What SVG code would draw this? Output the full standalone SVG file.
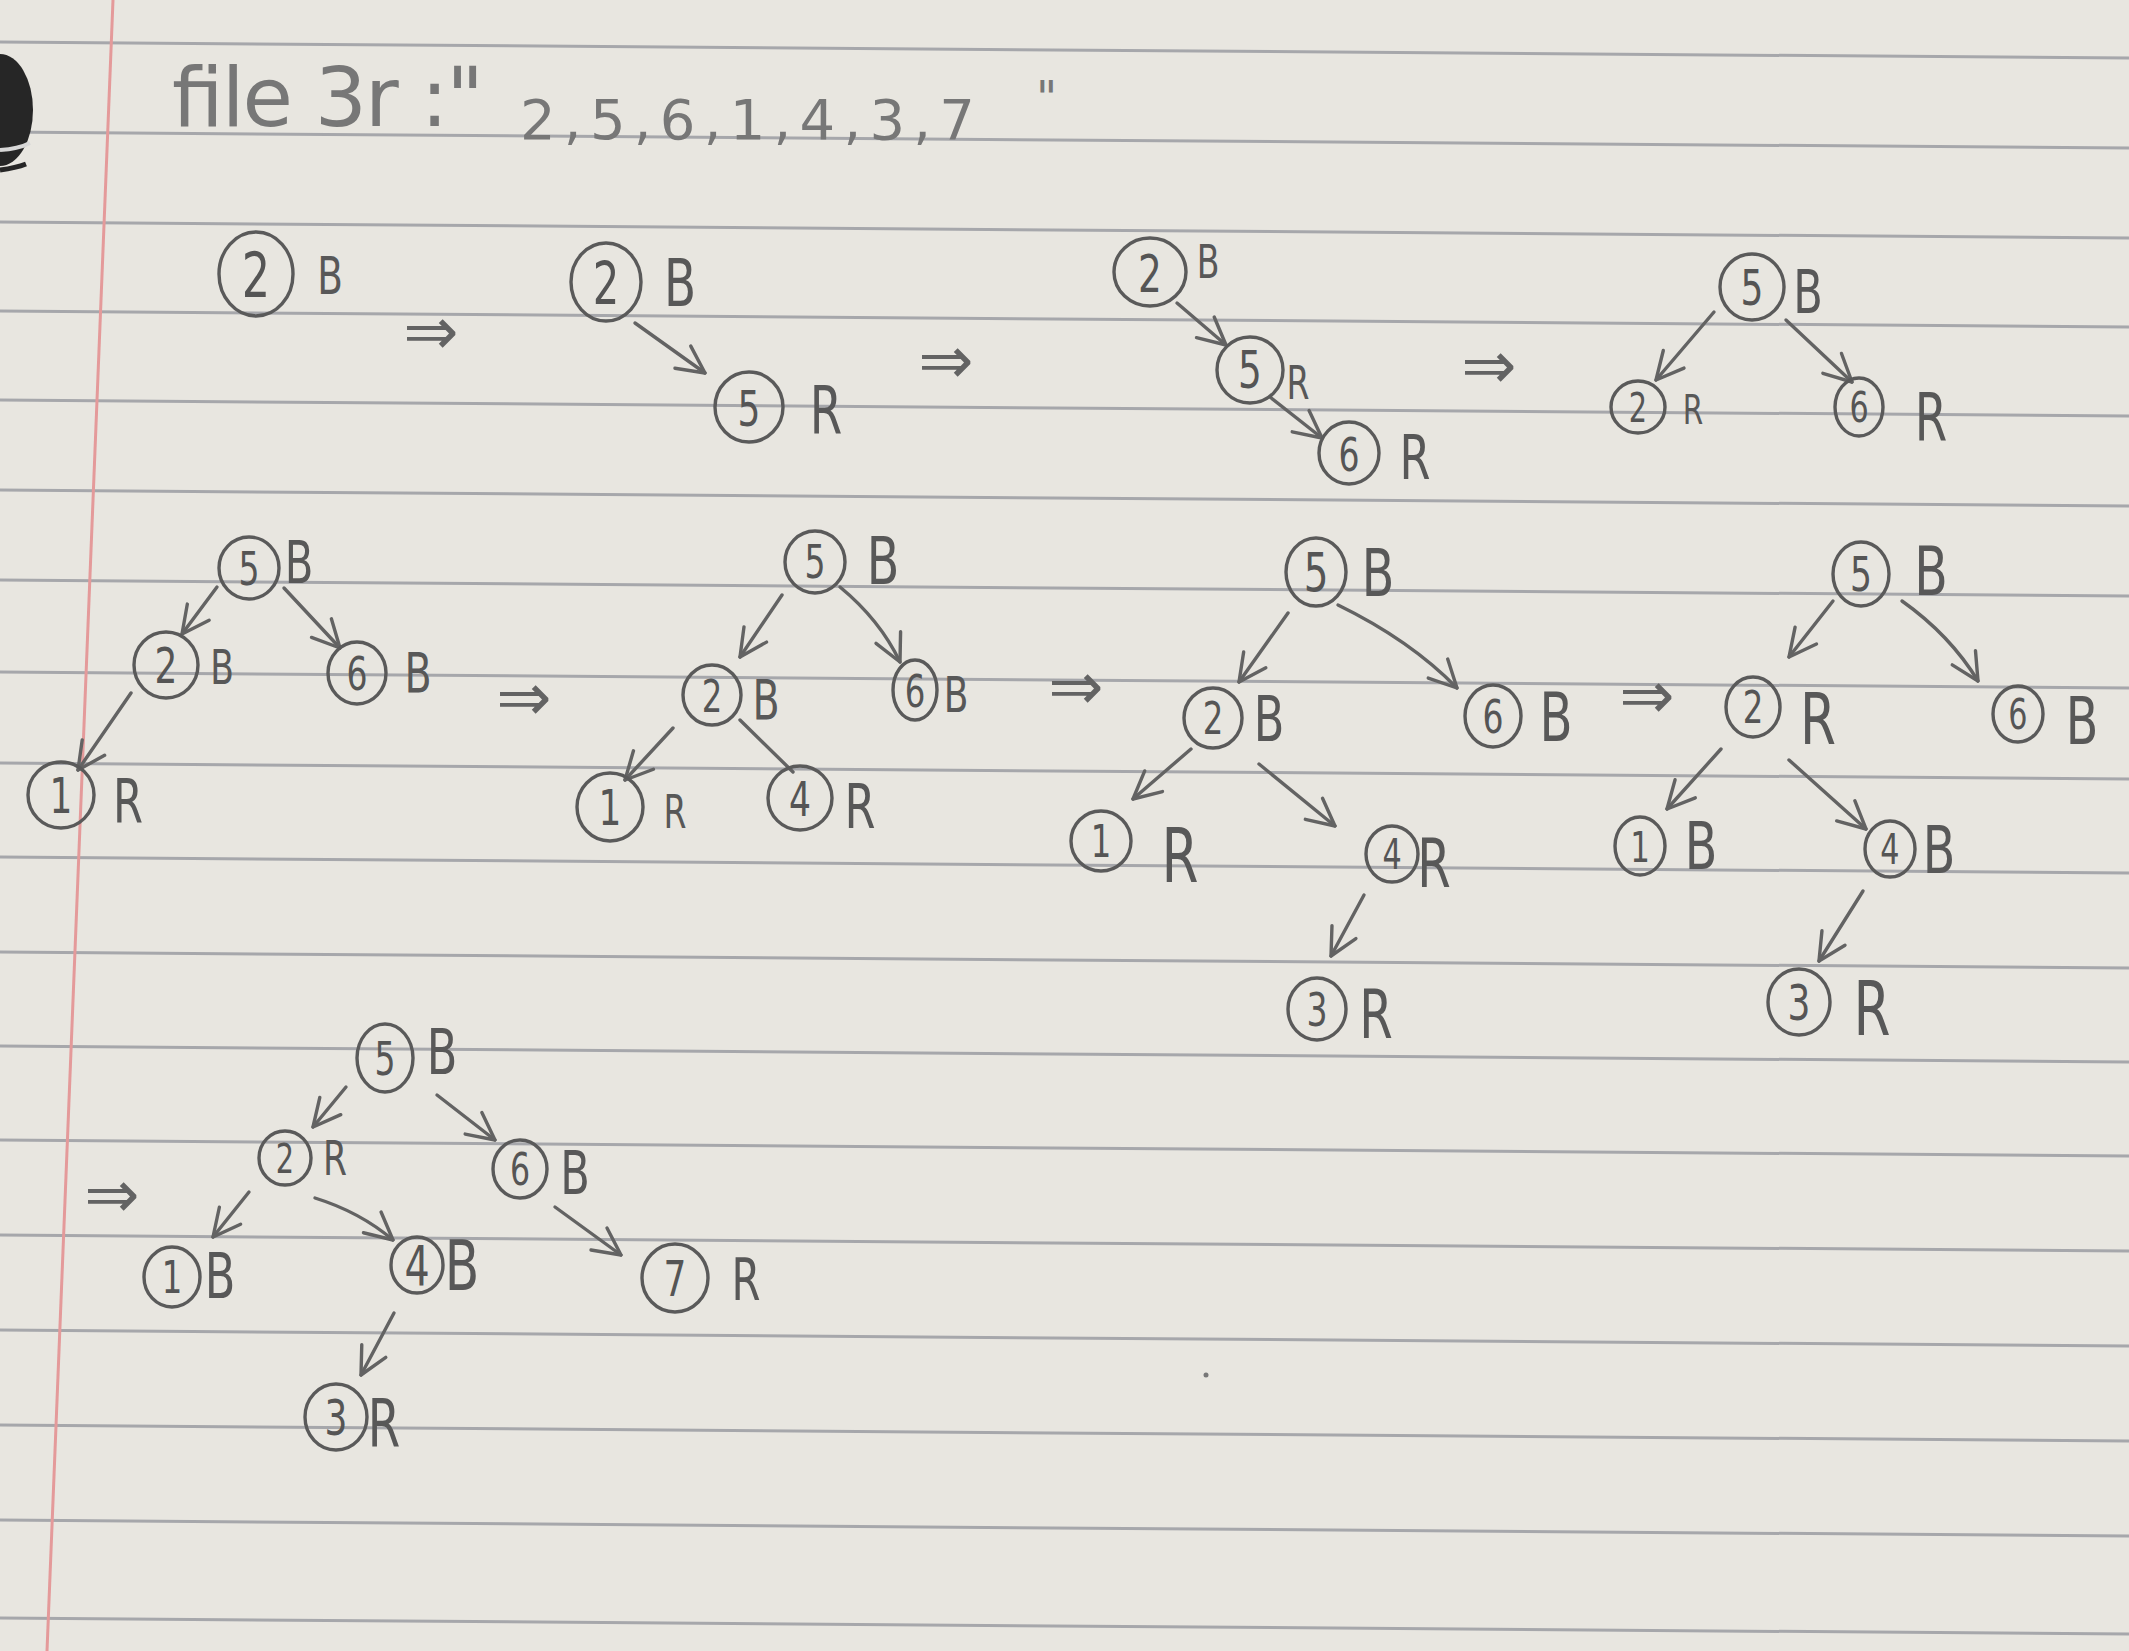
<svg xmlns="http://www.w3.org/2000/svg" width="2129" height="1651" viewBox="0 0 2129 1651">
<defs>
<style>
.paper{fill:#e8e6e0}
.rule{stroke:#a6a7ab;stroke-width:3;fill:none}
.margin{stroke:#e49a9a;stroke-width:3;fill:none}
.ring{fill:none;stroke:#5a5a5a;stroke-width:3.4}
.num{font-family:"DejaVu Sans",sans-serif;fill:#555;text-anchor:middle;dominant-baseline:central;transform-box:fill-box;transform-origin:center;transform:scaleX(0.72)}
.col{font-family:"DejaVu Sans",sans-serif;fill:#585858;text-anchor:middle;dominant-baseline:central;transform-box:fill-box;transform-origin:center;transform:scaleX(0.72)}
.edge{fill:none;stroke:#636363;stroke-width:3.4;stroke-linecap:round}
.stage{font-family:"DejaVu Sans",sans-serif;fill:#636363;text-anchor:middle;dominant-baseline:central;font-size:66px}
.title{font-family:"DejaVu Sans",sans-serif;fill:#777}
</style>
<marker id="v" viewBox="0 0 20 20" refX="18" refY="10" markerWidth="34" markerHeight="34" markerUnits="userSpaceOnUse" orient="auto">
<path d="M2,2 L18,10 L2,18" fill="none" stroke="#636363" stroke-width="2" stroke-linecap="round" stroke-linejoin="round"/>
</marker>
</defs>

<g id="paper">
<rect class="paper" x="0" y="0" width="2129" height="1651"/>
<path class="rule" d="M0,42 L2129,58"/>
<path class="rule" d="M0,132 L2129,148"/>
<path class="rule" d="M0,222 L2129,238"/>
<path class="rule" d="M0,311 L2129,327"/>
<path class="rule" d="M0,400 L2129,416"/>
<path class="rule" d="M0,490 L2129,506"/>
<path class="rule" d="M0,580 L2129,596"/>
<path class="rule" d="M0,672 L2129,688"/>
<path class="rule" d="M0,763 L2129,779"/>
<path class="rule" d="M0,857 L2129,873"/>
<path class="rule" d="M0,952 L2129,968"/>
<path class="rule" d="M0,1046 L2129,1062"/>
<path class="rule" d="M0,1140 L2129,1156"/>
<path class="rule" d="M0,1235 L2129,1251"/>
<path class="rule" d="M0,1330 L2129,1346"/>
<path class="rule" d="M0,1425 L2129,1441"/>
<path class="rule" d="M0,1520 L2129,1536"/>
<path class="rule" d="M0,1618 L2129,1634"/>
<path class="margin" d="M113,0 L47,1651"/>
<ellipse cx="0" cy="110" rx="33" ry="56" fill="#262626"/>
<path d="M0,150 Q18,149 30,143" stroke="#d8d8d8" stroke-width="4" fill="none"/>
<path d="M0,170 Q16,168 26,164" stroke="#262626" stroke-width="5" fill="none"/>
<circle cx="1206" cy="1375" r="2.5" fill="#777"/>
</g>

<g id="title">
<text class="title" x="170" y="126" font-size="82" textLength="312">file 3r :"</text>
<text class="title" x="520" y="139" font-size="56" textLength="455">2,5,6,1,4,3,7</text>
<text class="title" x="1036" y="114" font-size="46">"</text>
</g>

<g id="connectors">
<path class="edge" d="M635,323 L705,373" marker-end="url(#v)"/>
<path class="edge" d="M1177,303 L1226,345" marker-end="url(#v)"/>
<path class="edge" d="M1270,397 L1322,438" marker-end="url(#v)"/>
<path class="edge" d="M1714,312 L1656,380" marker-end="url(#v)"/>
<path class="edge" d="M1786,320 L1852,382" marker-end="url(#v)"/>
<path class="edge" d="M217,587 L182,634" marker-end="url(#v)"/>
<path class="edge" d="M284,588 L340,648" marker-end="url(#v)"/>
<path class="edge" d="M131,693 L78,770" marker-end="url(#v)"/>
<path class="edge" d="M782,595 L740,657" marker-end="url(#v)"/>
<path class="edge" d="M840,587 Q880,620 900,662" marker-end="url(#v)"/>
<path class="edge" d="M673,728 L625,780" marker-end="url(#v)"/>
<path class="edge" d="M740,720 L793,772"/>
<path class="edge" d="M1288,613 L1239,682" marker-end="url(#v)"/>
<path class="edge" d="M1338,605 Q1410,640 1457,688" marker-end="url(#v)"/>
<path class="edge" d="M1191,749 L1133,799" marker-end="url(#v)"/>
<path class="edge" d="M1259,764 L1335,826" marker-end="url(#v)"/>
<path class="edge" d="M1364,895 L1331,956" marker-end="url(#v)"/>
<path class="edge" d="M1833,601 L1789,657" marker-end="url(#v)"/>
<path class="edge" d="M1902,601 Q1950,635 1978,681" marker-end="url(#v)"/>
<path class="edge" d="M1721,749 L1667,809" marker-end="url(#v)"/>
<path class="edge" d="M1789,760 L1866,829" marker-end="url(#v)"/>
<path class="edge" d="M1863,891 L1819,961" marker-end="url(#v)"/>
<path class="edge" d="M346,1087 L313,1127" marker-end="url(#v)"/>
<path class="edge" d="M437,1095 L495,1140" marker-end="url(#v)"/>
<path class="edge" d="M249,1192 L213,1237" marker-end="url(#v)"/>
<path class="edge" d="M315,1198 Q360,1212 393,1240" marker-end="url(#v)"/>
<path class="edge" d="M555,1207 L621,1255" marker-end="url(#v)"/>
<path class="edge" d="M394,1313 L361,1375" marker-end="url(#v)"/>
</g>

<g id="stage-arrows">
<text class="stage" x="431" y="331">⇒</text>
<text class="stage" x="946" y="360">⇒</text>
<text class="stage" x="1489" y="365">⇒</text>
<text class="stage" x="524" y="697">⇒</text>
<text class="stage" x="1076" y="686" font-size="50">⇒</text>
<text class="stage" x="1647" y="695">⇒</text>
<text class="stage" x="112" y="1194">⇒</text>
</g>

<g id="t1-n2"><ellipse class="ring" cx="256" cy="274" rx="37" ry="42"/><text class="num" x="256" y="276" font-size="62">2</text><text class="col" x="330" y="276" font-size="52">B</text></g>

<g id="t2-n2"><ellipse class="ring" cx="606" cy="282" rx="35" ry="39"/><text class="num" x="606" y="284" font-size="58">2</text><text class="col" x="680" y="283" font-size="65">B</text></g>
<g id="t2-n5"><ellipse class="ring" cx="749" cy="407" rx="34" ry="35"/><text class="num" x="749" y="409" font-size="50">5</text><text class="col" x="826" y="410" font-size="65">R</text></g>

<g id="t3-n2"><ellipse class="ring" cx="1150" cy="272" rx="36" ry="34"/><text class="num" x="1150" y="274" font-size="52">2</text><text class="col" x="1208" y="262" font-size="46">B</text></g>
<g id="t3-n5"><ellipse class="ring" cx="1250" cy="370" rx="33" ry="33"/><text class="num" x="1250" y="370" font-size="52">5</text><text class="col" x="1298" y="383" font-size="46">R</text></g>
<g id="t3-n6"><ellipse class="ring" cx="1349" cy="453" rx="30" ry="31"/><text class="num" x="1349" y="455" font-size="46">6</text><text class="col" x="1415" y="458" font-size="62">R</text></g>

<g id="t4-n5"><ellipse class="ring" cx="1752" cy="287" rx="32" ry="33"/><text class="num" x="1752" y="288" font-size="50">5</text><text class="col" x="1808" y="292" font-size="60">B</text></g>
<g id="t4-n2"><ellipse class="ring" cx="1638" cy="407" rx="27" ry="26"/><text class="num" x="1638" y="408" font-size="40">2</text><text class="col" x="1693" y="410" font-size="41">R</text></g>
<g id="t4-n6"><ellipse class="ring" cx="1859" cy="407" rx="24" ry="29"/><text class="num" x="1859" y="408" font-size="42">6</text><text class="col" x="1931" y="417" font-size="65">R</text></g>

<g id="t5-n5"><ellipse class="ring" cx="249" cy="568" rx="30" ry="31"/><text class="num" x="249" y="569" font-size="46">5</text><text class="col" x="299" y="563" font-size="58">B</text></g>
<g id="t5-n2"><ellipse class="ring" cx="166" cy="665" rx="32" ry="33"/><text class="num" x="166" y="666" font-size="50">2</text><text class="col" x="222" y="667" font-size="48">B</text></g>
<g id="t5-n6"><ellipse class="ring" cx="357" cy="673" rx="29" ry="31"/><text class="num" x="357" y="674" font-size="46">6</text><text class="col" x="418" y="673" font-size="55">B</text></g>
<g id="t5-n1"><ellipse class="ring" cx="61" cy="795" rx="33" ry="33"/><text class="num" x="61" y="796" font-size="50">1</text><text class="col" x="128" y="802" font-size="60">R</text></g>

<g id="t6-n5"><ellipse class="ring" cx="815" cy="562" rx="30" ry="31"/><text class="num" x="815" y="562" font-size="46">5</text><text class="col" x="883" y="562" font-size="66">B</text></g>
<g id="t6-n2"><ellipse class="ring" cx="712" cy="695" rx="29" ry="30"/><text class="num" x="712" y="697" font-size="45">2</text><text class="col" x="766" y="700" font-size="55">B</text></g>
<g id="t6-n6"><ellipse class="ring" cx="915" cy="690" rx="22" ry="30"/><text class="num" x="915" y="692" font-size="45">6</text><text class="col" x="956" y="695" font-size="50">B</text></g>
<g id="t6-n1"><ellipse class="ring" cx="610" cy="807" rx="33" ry="34"/><text class="num" x="610" y="808" font-size="50">1</text><text class="col" x="675" y="812" font-size="46">R</text></g>
<g id="t6-n4"><ellipse class="ring" cx="800" cy="798" rx="32" ry="32"/><text class="num" x="800" y="799" font-size="48">4</text><text class="col" x="860" y="807" font-size="62">R</text></g>

<g id="t7-n5"><ellipse class="ring" cx="1316" cy="572" rx="30" ry="34"/><text class="num" x="1316" y="572" font-size="54">5</text><text class="col" x="1378" y="574" font-size="66">B</text></g>
<g id="t7-n2"><ellipse class="ring" cx="1213" cy="718" rx="29" ry="30"/><text class="num" x="1213" y="719" font-size="45">2</text><text class="col" x="1269" y="720" font-size="62">B</text></g>
<g id="t7-n6"><ellipse class="ring" cx="1493" cy="716" rx="28" ry="31"/><text class="num" x="1493" y="717" font-size="46">6</text><text class="col" x="1556" y="718" font-size="67">B</text></g>
<g id="t7-n1"><ellipse class="ring" cx="1101" cy="841" rx="30" ry="30"/><text class="num" x="1101" y="842" font-size="45">1</text><text class="col" x="1180" y="856" font-size="74">R</text></g>
<g id="t7-n4"><ellipse class="ring" cx="1392" cy="854" rx="26" ry="28"/><text class="num" x="1392" y="855" font-size="42">4</text><text class="col" x="1434" y="864" font-size="67">R</text></g>
<g id="t7-n3"><ellipse class="ring" cx="1317" cy="1009" rx="29" ry="31"/><text class="num" x="1317" y="1010" font-size="46">3</text><text class="col" x="1376" y="1015" font-size="67">R</text></g>

<g id="t8-n5"><ellipse class="ring" cx="1861" cy="574" rx="28" ry="32"/><text class="num" x="1861" y="574" font-size="48">5</text><text class="col" x="1931" y="571" font-size="68">B</text></g>
<g id="t8-n2"><ellipse class="ring" cx="1753" cy="707" rx="27" ry="30"/><text class="num" x="1753" y="708" font-size="45">2</text><text class="col" x="1818" y="719" font-size="72">R</text></g>
<g id="t8-n6"><ellipse class="ring" cx="2018" cy="714" rx="25" ry="28"/><text class="num" x="2018" y="715" font-size="42">6</text><text class="col" x="2082" y="722" font-size="66">B</text></g>
<g id="t8-n1"><ellipse class="ring" cx="1640" cy="846" rx="25" ry="29"/><text class="num" x="1640" y="847" font-size="43">1</text><text class="col" x="1701" y="847" font-size="66">B</text></g>
<g id="t8-n4"><ellipse class="ring" cx="1890" cy="849" rx="25" ry="28"/><text class="num" x="1890" y="850" font-size="42">4</text><text class="col" x="1939" y="851" font-size="66">B</text></g>
<g id="t8-n3"><ellipse class="ring" cx="1799" cy="1002" rx="31" ry="33"/><text class="num" x="1799" y="1003" font-size="50">3</text><text class="col" x="1872" y="1009" font-size="74">R</text></g>

<g id="t9-n5"><ellipse class="ring" cx="385" cy="1058" rx="28" ry="34"/><text class="num" x="385" y="1059" font-size="46">5</text><text class="col" x="442" y="1053" font-size="62">B</text></g>
<g id="t9-n2"><ellipse class="ring" cx="285" cy="1158" rx="26" ry="27"/><text class="num" x="285" y="1159" font-size="40">2</text><text class="col" x="335" y="1158" font-size="48">R</text></g>
<g id="t9-n6"><ellipse class="ring" cx="520" cy="1169" rx="27" ry="29"/><text class="num" x="520" y="1170" font-size="44">6</text><text class="col" x="575" y="1173" font-size="60">B</text></g>
<g id="t9-n1"><ellipse class="ring" cx="172" cy="1277" rx="28" ry="30"/><text class="num" x="172" y="1278" font-size="45">1</text><text class="col" x="220" y="1277" font-size="62">B</text></g>
<g id="t9-n4"><ellipse class="ring" cx="417" cy="1265" rx="26" ry="28"/><text class="num" x="417" y="1266" font-size="55">4</text><text class="col" x="462" y="1265" font-size="70">B</text></g>
<g id="t9-n7"><ellipse class="ring" cx="675" cy="1278" rx="33" ry="34"/><text class="num" x="675" y="1279" font-size="50">7</text><text class="col" x="746" y="1280" font-size="58">R</text></g>
<g id="t9-n3"><ellipse class="ring" cx="336" cy="1417" rx="31" ry="33"/><text class="num" x="336" y="1418" font-size="50">3</text><text class="col" x="384" y="1423" font-size="65">R</text></g>
</svg>
